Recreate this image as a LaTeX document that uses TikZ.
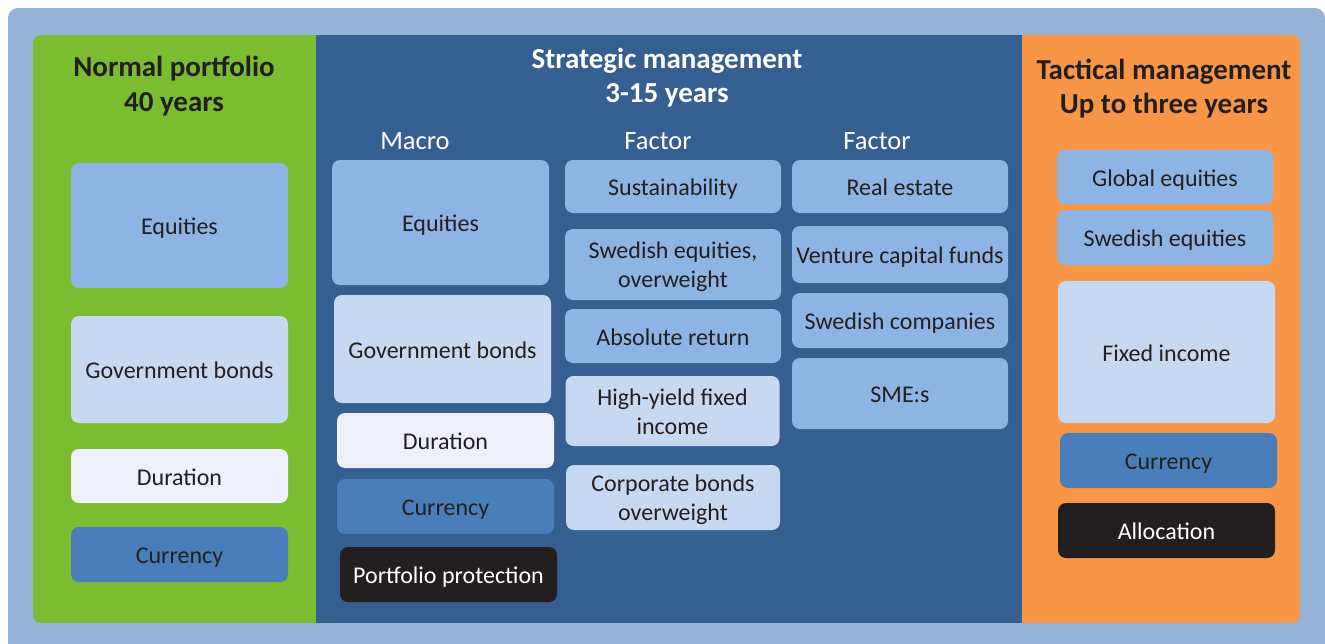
\documentclass[tikz,border=0pt]{standalone}
\usepackage{fontspec}
\setmainfont{Carlito}
\definecolor{outerbg}{HTML}{95B3D7}
\definecolor{greenpanel}{HTML}{7BBC31}
\definecolor{bluepanel}{HTML}{355F91}
\definecolor{orangepanel}{HTML}{F79646}
\definecolor{boxA}{HTML}{8EB4E3}
\definecolor{boxB}{HTML}{C6D9F1}
\definecolor{boxC}{HTML}{EDF0F8}
\definecolor{boxD}{HTML}{4A7EBB}
\definecolor{boxE}{HTML}{231F20}
\definecolor{txt}{HTML}{231F20}
\newcommand\dualline[2]{\begin{tabular}[t]{@{}c@{}}#1\\#2\end{tabular}}
\tikzset{
  cell/.style={rounded corners=8pt, inner sep=0pt, text=txt,
    font=\fontsize{24}{29}\selectfont, text height=21pt, text depth=3pt},
  two/.style={text height=10pt, text depth=22pt},
  cellA/.style={cell, fill=boxA},
  cellB/.style={cell, fill=boxB},
  cellC/.style={cell, fill=boxC},
  cellD/.style={cell, fill=boxD},
  cellE/.style={cell, fill=boxE, text=white},
  head/.style={align=center, inner sep=0pt, font=\bfseries\fontsize{29}{34.5}\selectfont},
  sub/.style={inner sep=0pt, text=white, font=\fontsize{26.5}{30}\selectfont},
}
\begin{document}
\begin{tikzpicture}[x=1pt,y=-1pt]
\useasboundingbox (0,0) rectangle (1325,643);
\clip (0,0) rectangle (1325,643);
% outer background
\fill[outerbg, rounded corners=10pt] (8,8) rectangle (1325,660);
% panels
\fill[greenpanel, rounded corners=8pt] (33,35) rectangle (340,623);
\fill[orangepanel, rounded corners=8pt] (1000,35) rectangle (1300,623);
\fill[bluepanel] (316,35) rectangle (1022,623);
% headers
\node[head, text=txt] (hnorm) at (174,86) {Normal portfolio\\40 years};
\node[head, text=white] (hstrat) at (667,77.5) {Strategic management\\3-15 years};
\node[head, text=txt] (htact) at (1164,88.5) {Tactical management\\Up to three years};
\node[sub] (hmacro) at (415,141) {Macro};
\node[sub] (hfac1) at (658,141) {Factor};
\node[sub] (hfac2) at (877,141) {Factor};
% normal portfolio
\node[cellA, minimum width=217pt, minimum height=125pt] (geq) at (179.5,225.5) {Equities};
\node[cellB, minimum width=217pt, minimum height=107pt] (ggov) at (179.5,369.5) {Government bonds};
\node[cellC, minimum width=217pt, minimum height=54pt] (gdur) at (179.5,476) {Duration};
\node[cellD, minimum width=217pt, minimum height=55pt] (gcur) at (179.5,554.5) {Currency};
% macro
\node[cellA, minimum width=217pt, minimum height=125pt] (meq) at (440.5,222.5) {Equities};
\node[cellB, minimum width=217pt, minimum height=108pt] (mgov) at (442.5,349) {Government bonds};
\node[cellC, minimum width=217pt, minimum height=55pt] (mdur) at (445.5,440.5) {Duration};
\node[cellD, minimum width=217pt, minimum height=55pt] (mcur) at (445.5,506.5) {Currency};
\node[cellE, minimum width=217pt, minimum height=55pt] (mprot) at (448.5,574.5) {Portfolio protection};
% factor 1
\node[cellA, minimum width=216pt, minimum height=53pt] (fsus) at (673,186.5) {Sustainability};
\node[cellA, two, minimum width=216pt, minimum height=71pt] (fswe) at (673,264.5) {\dualline{Swedish equities,}{overweight}};
\node[cellA, minimum width=216pt, minimum height=54pt] (fabs) at (673,336) {Absolute return};
\node[cellB, two, minimum width=214pt, minimum height=70pt] (fhy) at (672.5,411) {\dualline{High-yield fixed}{income}};
\node[cellB, two, minimum width=214pt, minimum height=65pt] (fcorp) at (673,497.5) {\dualline{Corporate bonds}{overweight}};
% factor 2
\node[cellA, minimum width=216pt, minimum height=53pt] (freal) at (900,186.5) {Real estate};
\node[cellA, minimum width=216pt, minimum height=57pt] (fvc) at (900,254.5) {Venture capital funds};
\node[cellA, minimum width=216pt, minimum height=55pt] (fswc) at (900,320.5) {Swedish companies};
\node[cellA, minimum width=216pt, minimum height=71pt] (fsme) at (900,393.5) {SME:s};
% tactical
\node[cellA, minimum width=216pt, minimum height=54pt] (tgeq) at (1165,177) {Global equities};
\node[cellA, minimum width=216pt, minimum height=55pt] (tseq) at (1165,237.5) {Swedish equities};
\node[cellB, minimum width=217pt, minimum height=142pt] (tfix) at (1166.5,352) {Fixed income};
\node[cellD, minimum width=217pt, minimum height=55pt] (tcur) at (1168.5,460.5) {Currency};
\node[cellE, minimum width=217pt, minimum height=55pt] (talloc) at (1166.5,530.5) {Allocation};
\end{tikzpicture}
\end{document}
